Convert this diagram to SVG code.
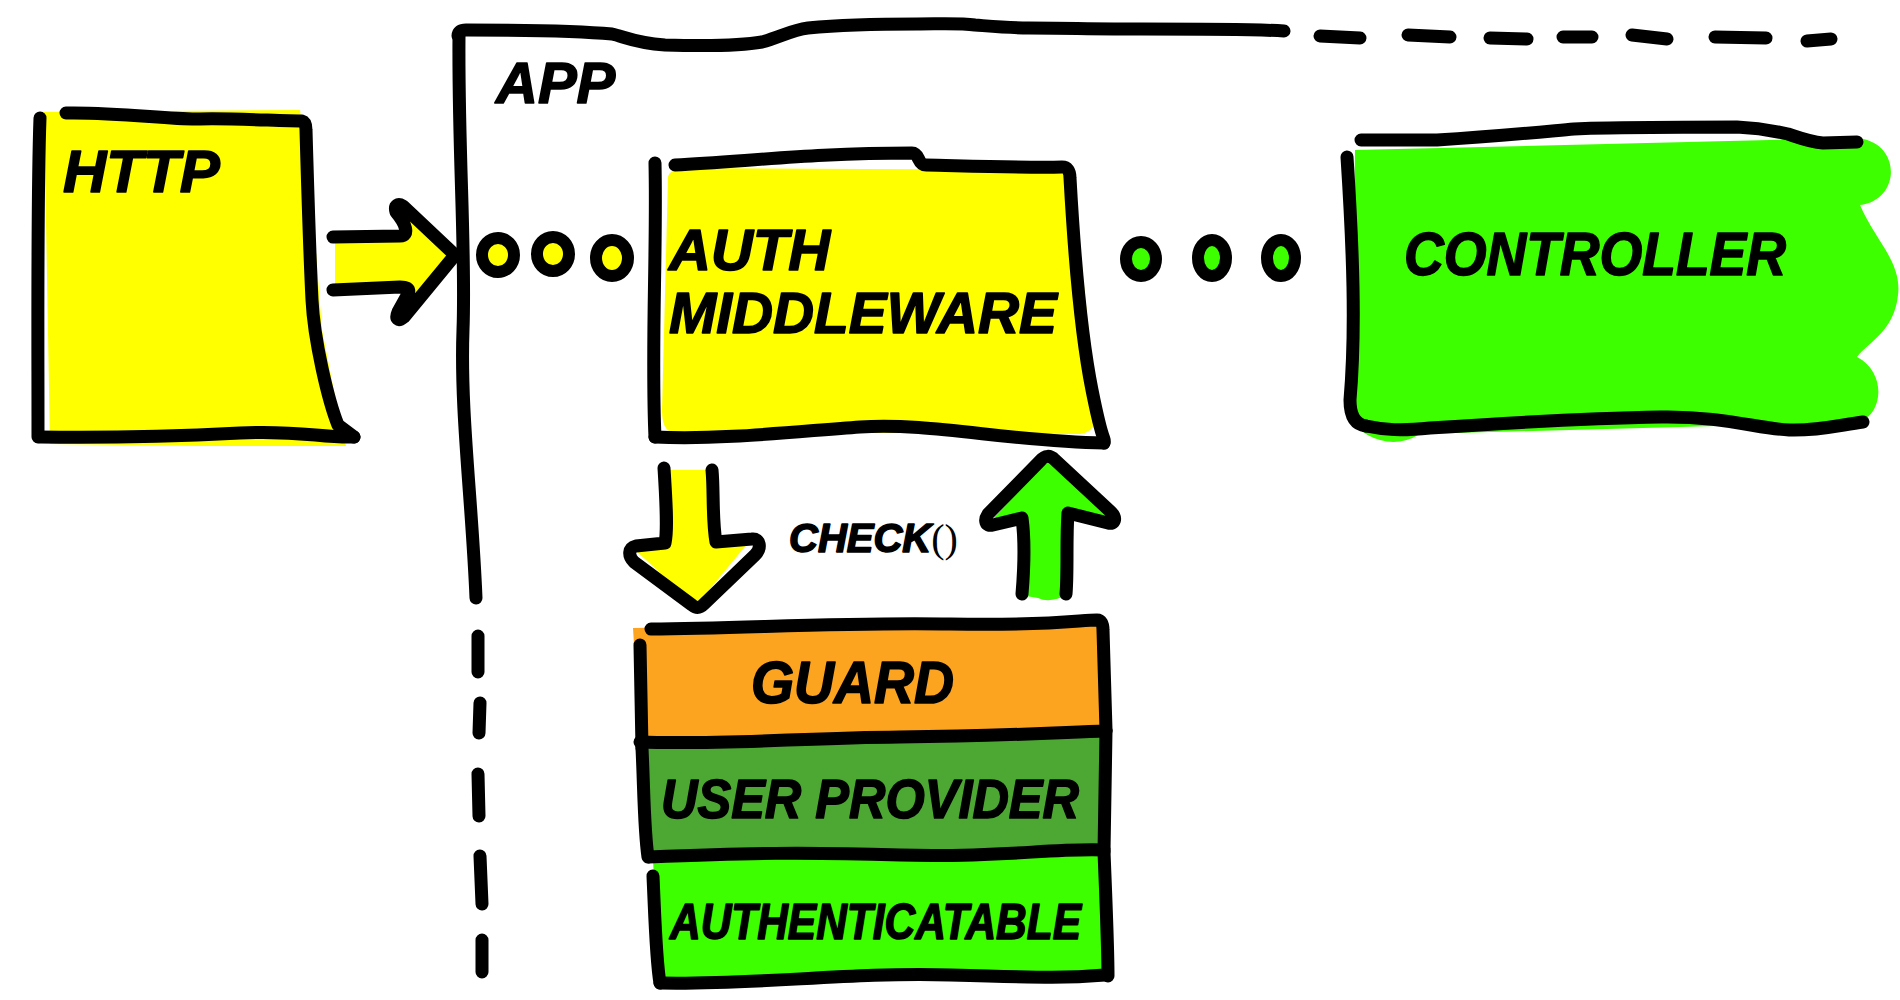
<svg xmlns="http://www.w3.org/2000/svg" width="1900" height="1000" viewBox="0 0 1900 1000">
<style>
.ink{fill:none;stroke:#000;stroke-width:13;stroke-linecap:round;stroke-linejoin:round}
.dot{stroke:#000;stroke-width:12}
.h{font-family:"Liberation Sans",Arial,sans-serif;font-weight:bold;font-style:italic;fill:#000;stroke:#000;stroke-width:1.6;stroke-linejoin:round}
.y{fill:#ffff00}
.g{fill:#3dff00}
.o{fill:#fca320}
.dg{fill:#4ca832}
</style>
<rect x="0" y="0" width="1900" height="1000" fill="#fff"/>

<g id="node-app">
  <path class="ink" d="M459,36 C458,150 466,250 463,330 S472,500 476,598"/>
  <path class="ink" d="M478,636 L478,672 M480,703 L479,733 M478,774 L479,816 M480,856 L482,904 M482,940 L482,972"/>
  <path class="ink" d="M458,36 Q458,30 466,30 C520,30 580,31 612,34 C625,37 635,43 665,45 C700,46 740,46 762,42 C780,37 792,30 808,28 C850,24 890,24 917,24 C940,24 960,23 975,25 C1000,27 1010,28 1029,28 C1060,28 1100,29 1141,29 C1200,29 1250,29 1284,31"/>
  <path class="ink" d="M1320,36 L1360,38 M1408,35 L1450,37 M1490,38 L1527,39 M1563,37 L1592,37 M1632,35 L1667,39 M1715,37 L1766,38 M1807,41 L1831,39"/>
  <text class="h" x="496" y="103" font-size="58">APP</text>
</g>

<g id="node-http">
  <path class="y" d="M44,112 L300,110 L312,200 L322,330 L342,432 L346,446 L200,446 L50,444 Z"/>
  <path class="ink" d="M40,118 C37,200 38,330 38,437"/>
  <path class="ink" d="M66,113 C120,112 170,120 200,119 S280,121 302,121 Q306,122 306,130 C308,200 310,260 312,300 S328,400 338,425 L354,437"/>
  <path class="ink" d="M40,437 C100,438 180,436 240,433 S320,438 354,437"/>
  <text class="h" x="63" y="192" font-size="60">HTTP</text>
</g>

<g id="node-auth-middleware">
  <path class="y" d="M668,178 Q668,168 690,168 L1060,170 Q1072,172 1074,190 L1096,400 Q1100,432 1080,434 L672,432 Q662,430 662,410 Z"/>
  <path class="ink" d="M655,163 C657,250 651,350 655,437"/>
  <path class="ink" d="M675,165 C750,161 820,153 912,153 C920,153 917,165 926,165 C970,166 1030,168 1062,167 Q1070,167 1070,178 C1074,250 1080,330 1092,390 S1105,435 1104,443"/>
  <path class="ink" d="M655,437 C720,440 790,432 860,427 S1010,442 1104,443"/>
  <text class="h" x="669" y="270" font-size="58">AUTH</text>
  <text class="h" x="669" y="333" font-size="58" textLength="388" lengthAdjust="spacingAndGlyphs">MIDDLEWARE</text>
</g>

<g id="node-controller">
  <path class="g" d="M1355,150 L1855,138 C1902,140 1902,200 1860,205 C1875,240 1902,262 1898,295 C1894,332 1868,342 1857,357 C1886,372 1884,412 1860,422 L1420,434 Q1400,446 1380,440 Q1352,432 1352,410 Z"/>
  <path class="ink" d="M1361,140 C1400,140 1420,140 1437,140 C1500,136 1540,132 1574,129 C1590,128 1600,128 1609,128 C1660,127 1700,127 1737,127 C1760,128 1775,131 1788,134 C1800,138 1810,142 1823,143 L1857,142"/>
  <path class="ink" d="M1347,157 C1353,250 1356,330 1350,400 Q1350,424 1366,426"/>
  <path class="ink" d="M1366,426 C1385,430 1401,431 1430,428 C1550,420 1600,418 1661,417 S1760,429 1789,430 S1840,425 1863,422"/>
  <text class="h" x="1404" y="275" font-size="62" textLength="382" lengthAdjust="spacingAndGlyphs">CONTROLLER</text>
</g>

<g id="connectors">
  <g id="arrow-http-app">
    <path class="y" d="M335,240 L406,240 L396,208 L455,255 L400,318 L409,287 L335,287 Z"/>
    <path class="ink" d="M333,237 L400,236 C410,236 406,224 396,212 C394,205 398,203 403,206 L455,255 L404,317 C398,322 395,319 398,312 L408,294 C411,288 405,287 400,287 L333,290"/>
  </g>
  <g id="dots-app-middleware">
    <ellipse class="dot y" cx="498" cy="255" rx="16" ry="17"/>
    <ellipse class="dot y" cx="553" cy="254" rx="16" ry="17"/>
    <ellipse class="dot y" cx="612" cy="258" rx="16" ry="18"/>
  </g>
  <g id="dots-middleware-controller">
    <ellipse class="dot g" cx="1141" cy="259" rx="15" ry="17"/>
    <ellipse class="dot g" cx="1212" cy="258" rx="14" ry="18"/>
    <ellipse class="dot g" cx="1281" cy="258" rx="14" ry="18"/>
  </g>
  <g id="arrow-check-down">
    <path class="y" d="M666,470 L712,470 L714,540 L752,538 L696,606 L633,548 L666,545 Z"/>
    <path class="ink" d="M664,468 C666,500 668,530 665,543 L636,546 C628,548 628,556 634,562 L692,605 C697,609 700,608 704,604 L755,555 C762,548 760,538 752,539 L716,542 C712,520 714,490 712,470"/>
  </g>
  <g id="arrow-check-up">
    <path class="g" d="M1026,596 L1024,520 L990,522 L1047,460 L1112,520 L1068,515 L1068,594 Q1050,604 1038,598 Z"/>
    <path class="ink" d="M1022,594 C1024,570 1025,540 1022,518 L993,525 C985,527 984,520 988,514 L1040,461 C1045,455 1050,455 1055,460 L1111,512 C1117,518 1115,525 1108,523 L1068,513 C1066,540 1068,570 1066,594"/>
  </g>
  <text class="h" x="789" y="552" font-size="40">CHECK<tspan font-family="'Liberation Serif',serif" font-weight="normal" font-style="normal" stroke-width="0">()</tspan></text>
</g>

<g id="node-guard">
  <path class="o" d="M633,628 L1100,620 L1104,733 L640,745 Z"/>
  <path class="ink" d="M651,629 C750,628 850,622 950,624 S1080,620 1097,620 Q1103,620 1103,630 L1106,730"/>
  <path class="ink" d="M640,645 L642,748"/>
  <text class="h" x="751" y="703" font-size="60" textLength="203" lengthAdjust="spacingAndGlyphs">GUARD</text>
</g>

<g id="node-user-provider">
  <path class="dg" d="M642,744 L1106,733 L1103,852 L649,857 Z"/>
  <path class="ink" d="M640,742 C720,745 800,738 900,737 S1050,733 1106,731"/>
  <path class="ink" d="M642,748 C644,790 644,830 648,857"/>
  <path class="ink" d="M1106,731 L1104,852"/>
  <text class="h" x="661" y="818" font-size="56" textLength="418" lengthAdjust="spacingAndGlyphs">USER PROVIDER</text>
</g>

<g id="node-authenticatable">
  <path class="g" d="M653,860 L1104,852 L1108,976 L660,984 Z"/>
  <path class="ink" d="M649,857 C750,853 800,852 900,855 S1050,848 1104,850"/>
  <path class="ink" d="M653,876 C655,920 656,960 660,983"/>
  <path class="ink" d="M1104,852 C1106,900 1108,950 1108,976"/>
  <path class="ink" d="M660,983 C760,985 850,972 950,975 S1070,978 1105,975"/>
  <text class="h" x="670" y="939" font-size="50" textLength="411" lengthAdjust="spacingAndGlyphs">AUTHENTICATABLE</text>
</g>
</svg>
